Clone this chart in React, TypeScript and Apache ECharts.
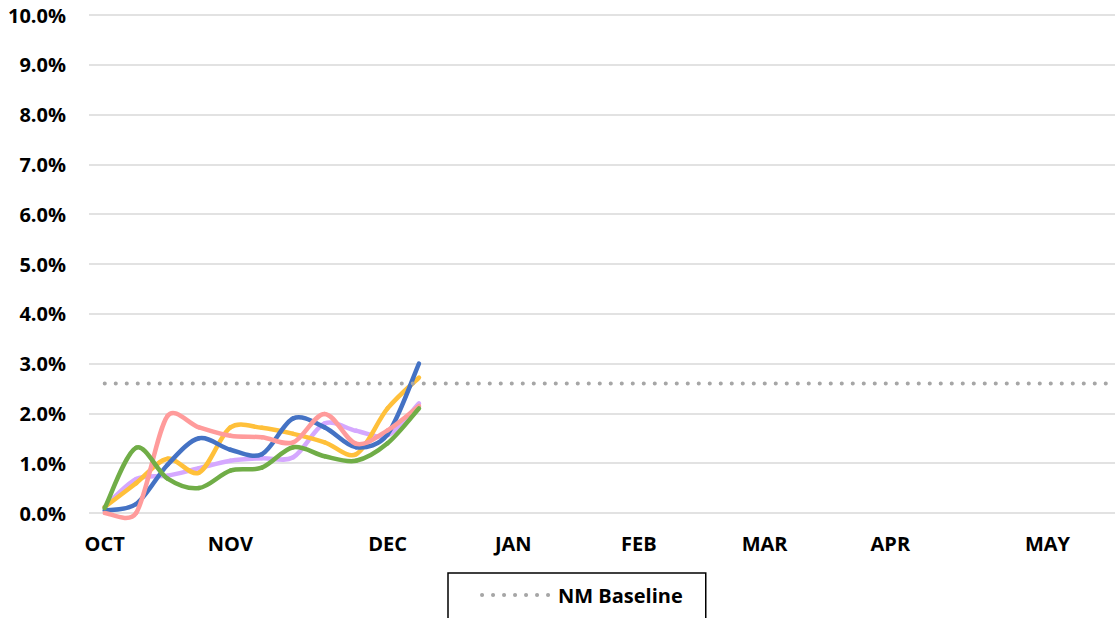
import React, { useEffect, useRef } from "react";
import * as echarts from "echarts";

const weekLabels = [
  "OCT", "", "", "", "NOV", "", "", "", "", "DEC", "", "", "", "JAN", "", "", "",
  "FEB", "", "", "", "MAR", "", "", "", "APR", "", "", "", "", "MAY", "", "",
];

const seriesBlue = [0.05, 0.18, 0.97, 1.5, 1.27, 1.18, 1.9, 1.72, 1.32, 1.58, 3.0];
const seriesPink = [0.0, 0.0, 1.95, 1.72, 1.55, 1.52, 1.42, 1.99, 1.39, 1.66, 2.15];
const seriesOrange = [0.12, 0.6, 1.09, 0.81, 1.72, 1.71, 1.59, 1.42, 1.18, 2.1, 2.72];
const seriesPurple = [0.12, 0.68, 0.75, 0.9, 1.05, 1.1, 1.12, 1.8, 1.65, 1.56, 2.2];
const seriesGreen = [0.1, 1.31, 0.69, 0.5, 0.85, 0.91, 1.32, 1.14, 1.05, 1.4, 2.1];
const baseline = [
  2.6, 2.6, 2.6, 2.6, 2.6, 2.6, 2.6, 2.6, 2.6, 2.6, 2.6, 2.6, 2.6, 2.6, 2.6, 2.6, 2.6,
  2.6, 2.6, 2.6, 2.6, 2.6, 2.6, 2.6, 2.6, 2.6, 2.6, 2.6, 2.6, 2.6, 2.6, 2.6, 2.6,
];

const FONT = "'Open Sans', 'Liberation Sans', sans-serif";

function dist(a: number[], b: number[]) {
  return Math.hypot(b[0] - a[0], b[1] - a[1]);
}

function smoothSeries(name: string, values: number[], color: string) {
  return {
    name,
    type: "custom",
    silent: true,
    data: values.map((v, i) => [i, v]),
    encode: { x: 0, y: 1 },
    renderItem: (params: any, api: any) => {
      const i = params.dataIndex;
      const n = values.length;
      if (i >= n - 1) return { type: "group", children: [] };
      const c = (j: number) => api.coord([j, values[j]]);
      const p0 = c(Math.max(0, i - 1));
      const p1 = c(i);
      const p2 = c(i + 1);
      const p3 = c(Math.min(n - 1, i + 2));
      const seg = dist(p1, p2);
      const prev = i > 0 ? dist(p0, p1) : seg;
      const next = i + 2 < n ? dist(p2, p3) : seg;
      const k1 = Math.min(1, Math.sqrt((2 * seg) / (prev + seg || 1)));
      const k2 = Math.min(1, Math.sqrt((2 * seg) / (next + seg || 1)));
      return {
        type: "bezierCurve",
        shape: {
          x1: p1[0],
          y1: p1[1],
          cpx1: p1[0] + ((p2[0] - p0[0]) / 6) * k1,
          cpy1: p1[1] + ((p2[1] - p0[1]) / 6) * k1,
          cpx2: p2[0] - ((p3[0] - p1[0]) / 6) * k2,
          cpy2: p2[1] - ((p3[1] - p1[1]) / 6) * k2,
          x2: p2[0],
          y2: p2[1],
        },
        style: { stroke: color, lineWidth: 4.5, fill: null, lineCap: "round" },
      };
    },
  };
}

export default function App() {
  const ref = useRef<HTMLDivElement>(null);
  useEffect(() => {
    if (!ref.current) return;
    const chart = echarts.init(ref.current, undefined, { renderer: "svg" });
    chart.setOption({
      animation: false,
      grid: { left: 89, right: 0, top: 15, bottom: 105, containLabel: false },
      xAxis: {
        type: "category",
        data: weekLabels,
        boundaryGap: true,
        axisLine: { show: false },
        axisTick: { show: false },
        axisLabel: {
          interval: 0,
          margin: 20,
          color: "#000",
          fontWeight: "bold",
          fontSize: 20,
          fontFamily: FONT,
        },
        splitLine: { show: false },
      },
      yAxis: {
        type: "value",
        min: 0,
        max: 10,
        interval: 1,
        axisLine: { show: false },
        axisTick: { show: false },
        axisLabel: {
          margin: 23,
          color: "#000",
          fontWeight: "bold",
          fontSize: 20,
          fontFamily: FONT,
          formatter: (v: number) => v.toFixed(1) + "%",
        },
        splitLine: { lineStyle: { color: "#D9D9D9", width: 1.5 } },
      },
      legend: {
        data: ["NM Baseline"],
        left: 448,
        top: 573,
        padding: [12, 23, 30, 32],
        itemWidth: 70,
        itemHeight: 14,
        itemGap: 10,
        borderColor: "#000",
        borderWidth: 1.5,
        itemStyle: { opacity: 0 },
        lineStyle: { width: 4, type: [0.1, 10.9], cap: "round", color: "#A6A6A6" },
        textStyle: { color: "#000", fontWeight: "bold", fontSize: 20, fontFamily: FONT, padding: [0, 0, 0, 1] },
      },
      series: [
        {
          name: "NM Baseline",
          type: "line",
          data: baseline,
          symbol: "none",
          lineStyle: { color: "#A6A6A6", width: 4, type: [0.1, 10.9], cap: "round" },
          itemStyle: { color: "#A6A6A6" },
        },
        smoothSeries("Series 1", seriesPurple, "#D5A8FF"),
        smoothSeries("Series 2", seriesOrange, "#FFC03A"),
        smoothSeries("Series 3", seriesBlue, "#4472C4"),
        smoothSeries("Series 4", seriesPink, "#FF9B9B"),
        smoothSeries("Series 5", seriesGreen, "#70AD47"),
      ],
    });
    return () => chart.dispose();
  }, []);
  return (
    <div style={{ position: "absolute", left: 0, top: 0, width: 1115, height: 618, overflow: "hidden", background: "#fff" }}>
      <div ref={ref} style={{ width: 1126, height: 618 }} />
    </div>
  );
}
